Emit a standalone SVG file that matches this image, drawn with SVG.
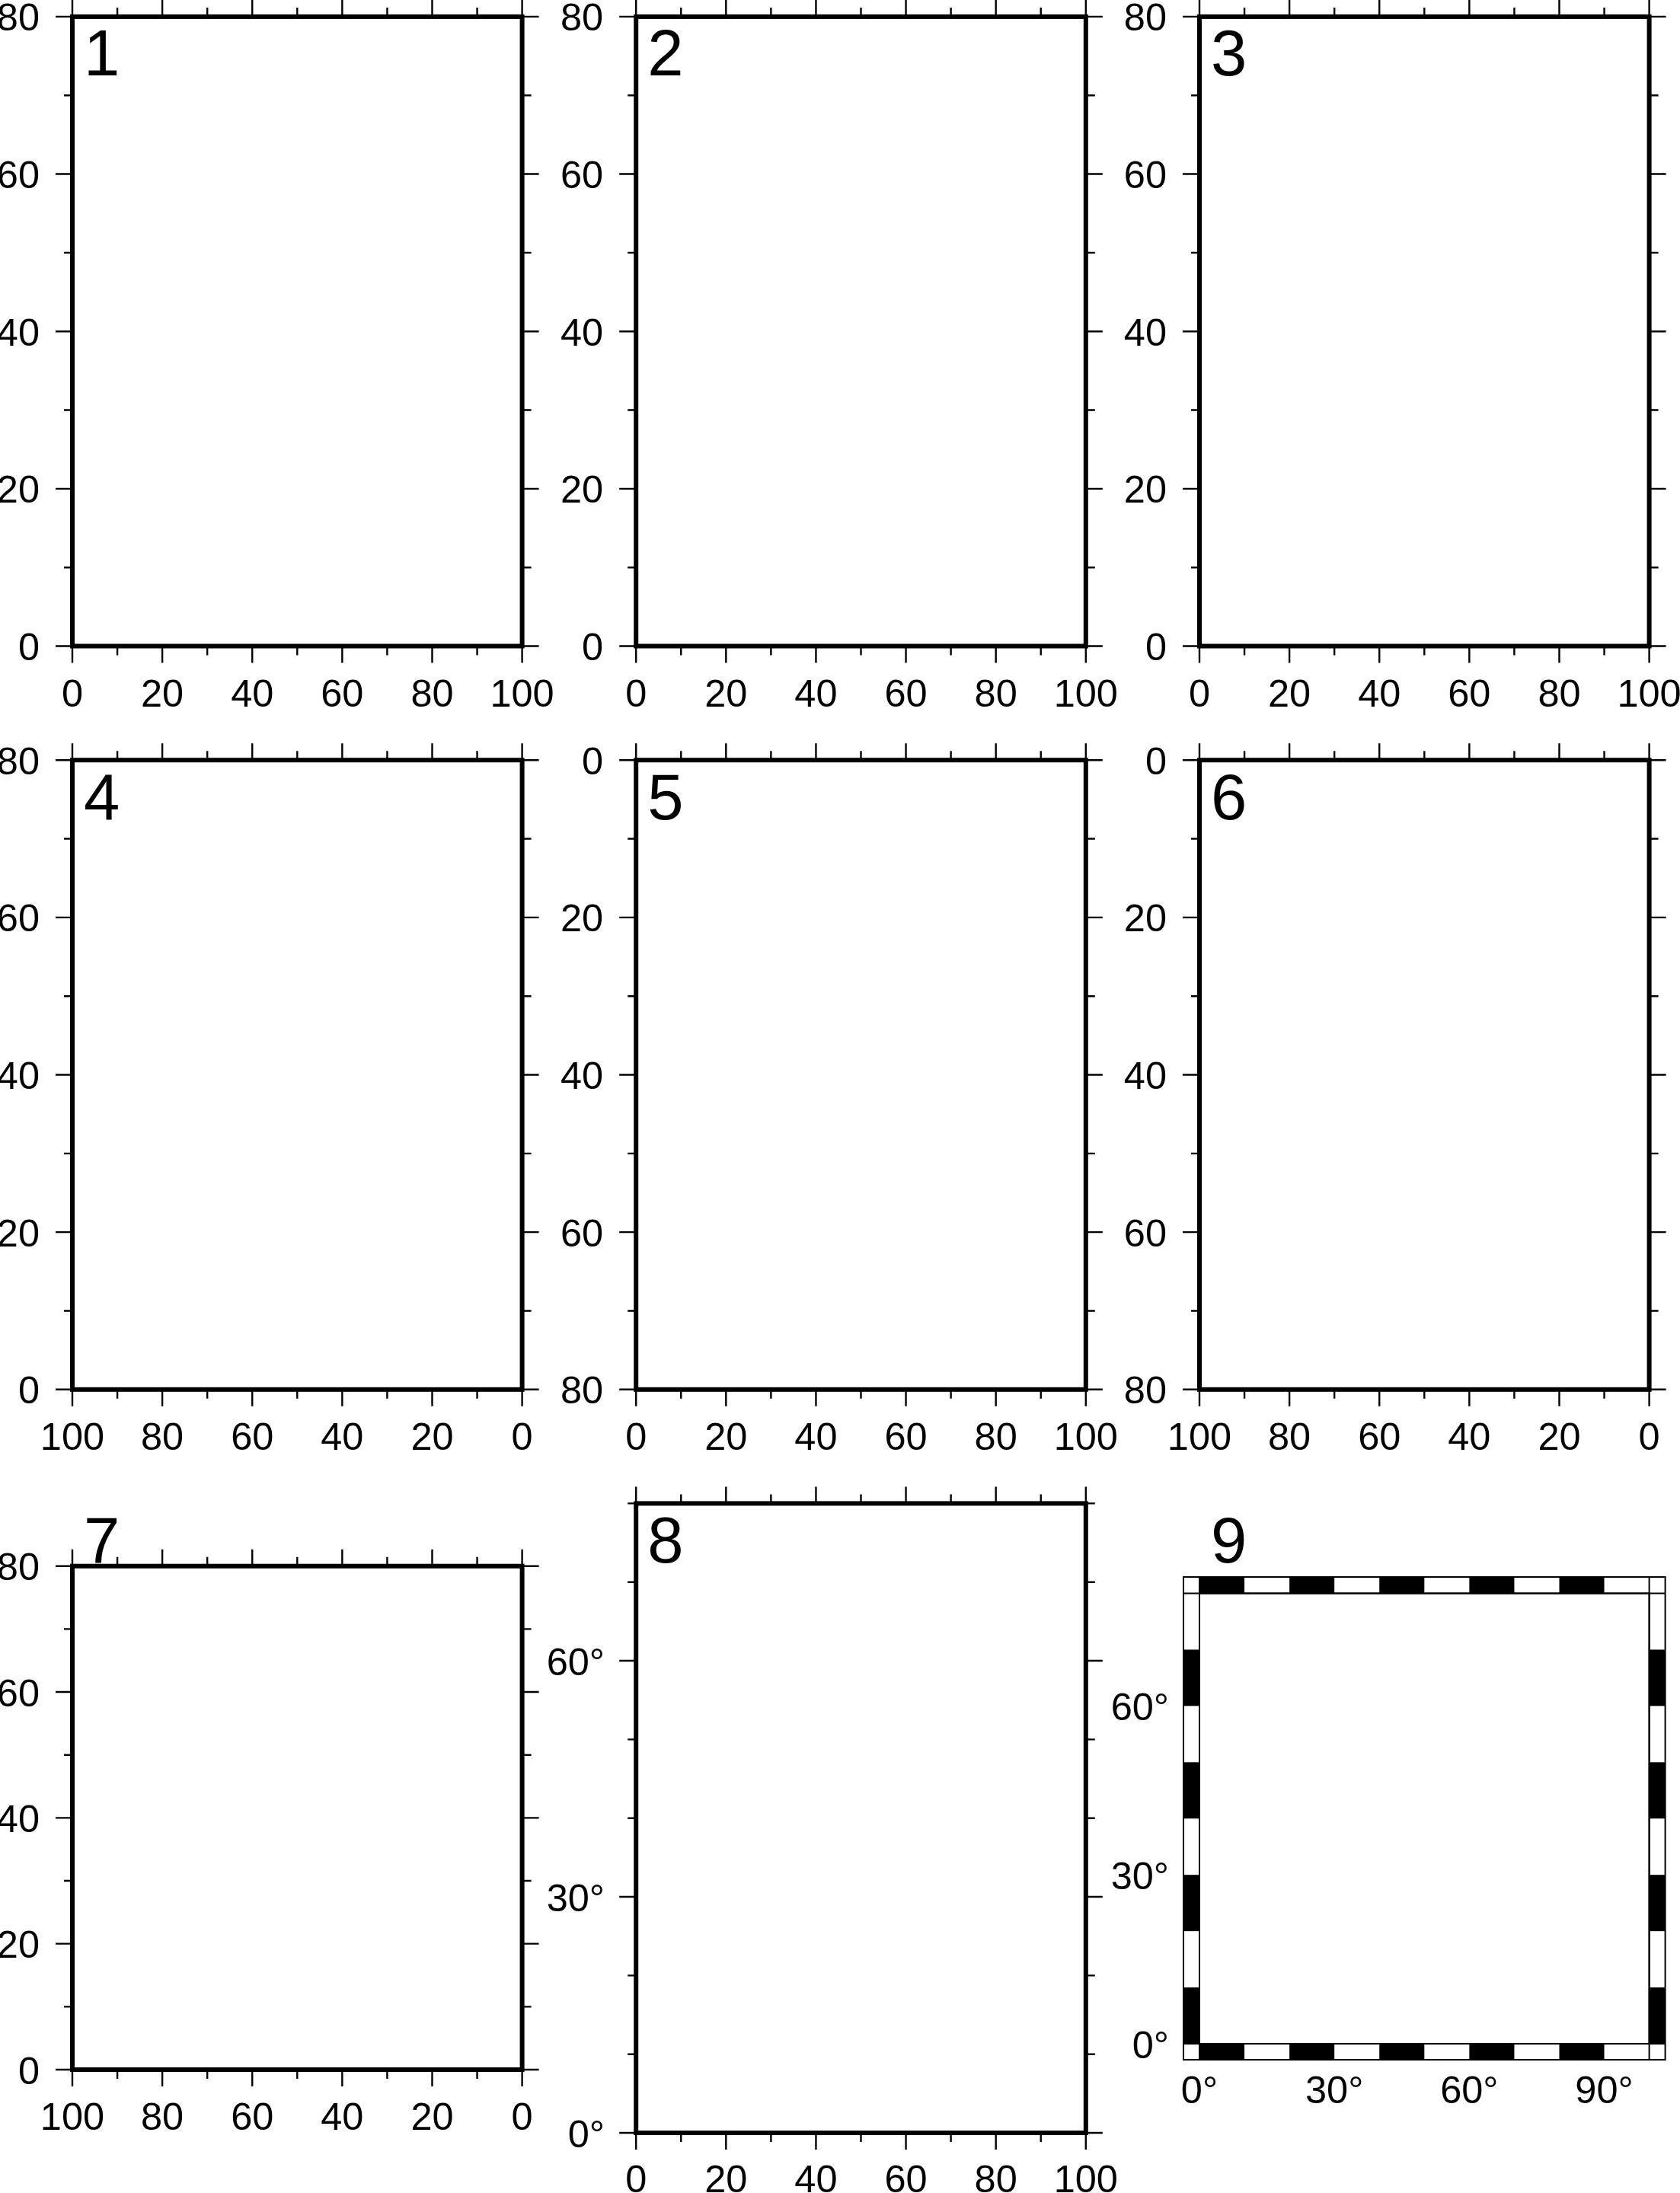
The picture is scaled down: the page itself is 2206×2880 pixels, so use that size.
<svg xmlns="http://www.w3.org/2000/svg" width="2206" height="2880" viewBox="0 0 2206 2880">
<style>
.ax{font-family:"Liberation Sans",Arial,Helvetica,sans-serif;font-size:50.5px;fill:#000}
.ye{text-anchor:end}
.xm{text-anchor:middle}
.num{font-family:"Liberation Sans",Arial,Helvetica,sans-serif;font-size:85px;fill:#000}
</style>
<defs>
<path id="xt" fill="none" stroke="#000" stroke-width="2.4" d="M0,0V-22M59.06,0V-12M118.12,0V-22M177.18,0V-12M236.24,0V-22M295.3,0V-12M354.36,0V-22M413.42,0V-12M472.48,0V-22M531.54,0V-12M590.6,0V-22"/>
<path id="xb" fill="none" stroke="#000" stroke-width="2.4" d="M0,0V22M59.06,0V12M118.12,0V22M177.18,0V12M236.24,0V22M295.3,0V12M354.36,0V22M413.42,0V12M472.48,0V22M531.54,0V12M590.6,0V22"/>
<path id="yl" fill="none" stroke="#000" stroke-width="2.4" d="M0,0H-22M0,103.325H-11M0,206.65H-22M0,309.975H-11M0,413.3H-22M0,516.625H-11M0,619.95H-22M0,723.275H-11M0,826.6H-22"/>
<path id="yr" fill="none" stroke="#000" stroke-width="2.4" d="M0,0H22M0,103.325H12M0,206.65H22M0,309.975H12M0,413.3H22M0,516.625H12M0,619.95H22M0,723.275H12M0,826.6H22"/>
<path id="yl7" fill="none" stroke="#000" stroke-width="2.4" d="M0,0H-22M0,82.6625H-11M0,165.325H-22M0,247.9875H-11M0,330.65H-22M0,413.3125H-11M0,495.975H-22M0,578.6375H-11M0,661.3H-22"/>
<path id="yr7" fill="none" stroke="#000" stroke-width="2.4" d="M0,0H22M0,82.6625H12M0,165.325H22M0,247.9875H12M0,330.65H22M0,413.3125H12M0,495.975H22M0,578.6375H12M0,661.3H22"/>
<path id="yl8" fill="none" stroke="#000" stroke-width="2.4" d="M0,0H-11M0,103.325H-11M0,206.65H-22M0,309.975H-11M0,413.3H-11M0,516.625H-22M0,619.95H-11M0,723.275H-11M0,826.6H-22"/>
<path id="yr8" fill="none" stroke="#000" stroke-width="2.4" d="M0,0H12M0,103.325H12M0,206.65H22M0,309.975H12M0,413.3H12M0,516.625H22M0,619.95H12M0,723.275H12M0,826.6H22"/>
<g id="std">
<use href="#xt"/>
<use href="#xb" y="826.6"/>
<use href="#yl"/>
<use href="#yr" x="590.6"/>
<rect width="590.6" height="826.6" fill="none" stroke="#000" stroke-width="6"/>
</g>
<g id="p7">
<use href="#xt"/>
<use href="#xb" y="661.3"/>
<use href="#yl7"/>
<use href="#yr7" x="590.6"/>
<rect width="590.6" height="661.3" fill="none" stroke="#000" stroke-width="6"/>
</g>
<g id="p8">
<use href="#xt"/>
<use href="#xb" y="826.6"/>
<use href="#yl8"/>
<use href="#yr8" x="590.6"/>
<rect width="590.6" height="826.6" fill="none" stroke="#000" stroke-width="6"/>
</g>
</defs>
<rect width="2206" height="2880" fill="#fff"/>

<g id="panel1">
<use href="#std" x="95" y="21.9"/>
<text class="num" x="110" y="99">1</text>
<g class="ax ye"><text x="52" y="40.4">80</text><text x="52" y="247.05">60</text><text x="52" y="453.7">40</text><text x="52" y="660.35">20</text><text x="52" y="867">0</text></g>
<g class="ax xm"><text x="95" y="927.5">0</text><text x="213.12" y="927.5">20</text><text x="331.24" y="927.5">40</text><text x="449.36" y="927.5">60</text><text x="567.48" y="927.5">80</text><text x="685.6" y="927.5">100</text></g>
</g>

<g id="panel2">
<use href="#std" x="835.2" y="21.9"/>
<text class="num" x="850.2" y="99">2</text>
<g class="ax ye"><text x="792.2" y="40.4">80</text><text x="792.2" y="247.05">60</text><text x="792.2" y="453.7">40</text><text x="792.2" y="660.35">20</text><text x="792.2" y="867">0</text></g>
<g class="ax xm"><text x="835.2" y="927.5">0</text><text x="953.32" y="927.5">20</text><text x="1071.44" y="927.5">40</text><text x="1189.56" y="927.5">60</text><text x="1307.68" y="927.5">80</text><text x="1425.8" y="927.5">100</text></g>
</g>

<g id="panel3">
<use href="#std" x="1575" y="21.9"/>
<text class="num" x="1590" y="99">3</text>
<g class="ax ye"><text x="1532" y="40.4">80</text><text x="1532" y="247.05">60</text><text x="1532" y="453.7">40</text><text x="1532" y="660.35">20</text><text x="1532" y="867">0</text></g>
<g class="ax xm"><text x="1575" y="927.5">0</text><text x="1693.12" y="927.5">20</text><text x="1811.24" y="927.5">40</text><text x="1929.36" y="927.5">60</text><text x="2047.48" y="927.5">80</text><text x="2165.6" y="927.5">100</text></g>
</g>

<g id="panel4">
<use href="#std" x="95" y="998.2"/>
<text class="num" x="110" y="1075.7">4</text>
<g class="ax ye"><text x="52" y="1016.7">80</text><text x="52" y="1223.35">60</text><text x="52" y="1430">40</text><text x="52" y="1636.65">20</text><text x="52" y="1843.3">0</text></g>
<g class="ax xm"><text x="95" y="1903.8">100</text><text x="213.12" y="1903.8">80</text><text x="331.24" y="1903.8">60</text><text x="449.36" y="1903.8">40</text><text x="567.48" y="1903.8">20</text><text x="685.6" y="1903.8">0</text></g>
</g>

<g id="panel5">
<use href="#std" x="835.2" y="998.2"/>
<text class="num" x="850.2" y="1075.7">5</text>
<g class="ax ye"><text x="792.2" y="1016.7">0</text><text x="792.2" y="1223.35">20</text><text x="792.2" y="1430">40</text><text x="792.2" y="1636.65">60</text><text x="792.2" y="1843.3">80</text></g>
<g class="ax xm"><text x="835.2" y="1903.8">0</text><text x="953.32" y="1903.8">20</text><text x="1071.44" y="1903.8">40</text><text x="1189.56" y="1903.8">60</text><text x="1307.68" y="1903.8">80</text><text x="1425.8" y="1903.8">100</text></g>
</g>

<g id="panel6">
<use href="#std" x="1575" y="998.2"/>
<text class="num" x="1590" y="1075.7">6</text>
<g class="ax ye"><text x="1532" y="1016.7">0</text><text x="1532" y="1223.35">20</text><text x="1532" y="1430">40</text><text x="1532" y="1636.65">60</text><text x="1532" y="1843.3">80</text></g>
<g class="ax xm"><text x="1575" y="1903.8">100</text><text x="1693.12" y="1903.8">80</text><text x="1811.24" y="1903.8">60</text><text x="1929.36" y="1903.8">40</text><text x="2047.48" y="1903.8">20</text><text x="2165.6" y="1903.8">0</text></g>
</g>

<g id="panel7">
<use href="#p7" x="95" y="2056.7"/>
<text class="num" x="110" y="2052">7</text>
<g class="ax ye"><text x="52" y="2075.2">80</text><text x="52" y="2240.5">60</text><text x="52" y="2405.85">40</text><text x="52" y="2571.2">20</text><text x="52" y="2736.5">0</text></g>
<g class="ax xm"><text x="95" y="2797">100</text><text x="213.12" y="2797">80</text><text x="331.24" y="2797">60</text><text x="449.36" y="2797">40</text><text x="567.48" y="2797">20</text><text x="685.6" y="2797">0</text></g>
</g>

<g id="panel8">
<use href="#p8" x="835.2" y="1974.4"/>
<text class="num" x="850.2" y="2052">8</text>
<g class="ax ye"><text x="794" y="2199.55">60°</text><text x="794" y="2509.5">30°</text><text x="794" y="2819.5">0°</text></g>
<g class="ax xm"><text x="835.2" y="2878.5">0</text><text x="953.32" y="2878.5">20</text><text x="1071.44" y="2878.5">40</text><text x="1189.56" y="2878.5">60</text><text x="1307.68" y="2878.5">80</text><text x="1425.8" y="2878.5">100</text></g>
</g>

<g id="panel9">
<rect x="1554" y="2071" width="632.6" height="634" fill="#fff" stroke="#000" stroke-width="2"/>
<g fill="#000">
<rect x="1575" y="2071" width="59.06" height="21.5"/><rect x="1693.12" y="2071" width="59.06" height="21.5"/><rect x="1811.24" y="2071" width="59.06" height="21.5"/><rect x="1929.36" y="2071" width="59.06" height="21.5"/><rect x="2047.48" y="2071" width="59.06" height="21.5"/>
<rect x="1575" y="2684" width="59.06" height="21"/><rect x="1693.12" y="2684" width="59.06" height="21"/><rect x="1811.24" y="2684" width="59.06" height="21"/><rect x="1929.36" y="2684" width="59.06" height="21"/><rect x="2047.48" y="2684" width="59.06" height="21"/>
<rect x="1554" y="2610.06" width="21" height="73.94"/><rect x="1554" y="2462.19" width="21" height="73.94"/><rect x="1554" y="2314.31" width="21" height="73.94"/><rect x="1554" y="2166.44" width="21" height="73.94"/>
<rect x="2165.6" y="2610.06" width="21" height="73.94"/><rect x="2165.6" y="2462.19" width="21" height="73.94"/><rect x="2165.6" y="2314.31" width="21" height="73.94"/><rect x="2165.6" y="2166.44" width="21" height="73.94"/>
</g>
<rect x="1575" y="2092.5" width="590.6" height="591.5" fill="none" stroke="#000" stroke-width="2"/>
<path fill="none" stroke="#000" stroke-width="2" d="M1554,2092.5H2186.6M1554,2684H2186.6M1575,2071V2705M2165.6,2071V2705"/>
<text class="num" x="1590" y="2052">9</text>
<g class="ax ye"><text x="1535" y="2258.9">60°</text><text x="1535" y="2480.7">30°</text><text x="1535" y="2702.5">0°</text></g>
<g class="ax xm"><text x="1575" y="2762">0°</text><text x="1752.18" y="2762">30°</text><text x="1929.36" y="2762">60°</text><text x="2106.54" y="2762">90°</text></g>
</g>
</svg>
